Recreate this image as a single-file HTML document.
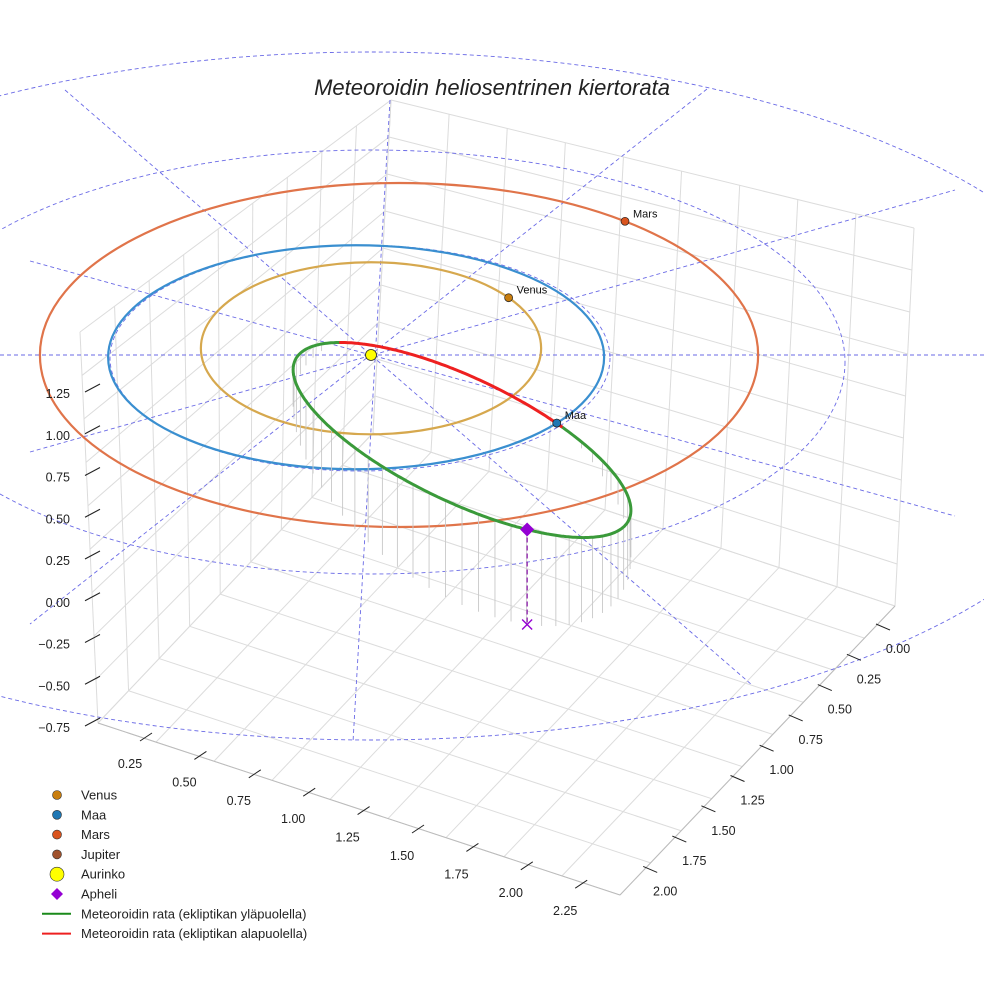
<!DOCTYPE html>
<html><head><meta charset="utf-8"><style>
body{margin:0;background:#fff}
svg{display:block;font-family:"Liberation Sans",sans-serif}
</style></head><body>
<svg id="c" width="984" height="984" viewBox="0 0 984 984">
<g id="grid"></g>
<g id="guides"></g>
<g id="orbits"></g>
<g id="meteor"></g>
<g id="ticks"></g>
<text x="492" y="95" text-anchor="middle" font-size="22" font-style="italic" fill="#222">Meteoroidin heliosentrinen kiertorata</text>
<g id="legend"></g>
</svg>
<script>
// ---- data ----
const planetNames = ["Venus","Maa","Mars"];
const planetA = [0.686, 1.0, 1.448];        // semi-axis along x (AU)
const planetB = [0.768, 1.0, 1.536];        // semi-axis along y (AU)
const planetCX = [0.0, -0.06, 0.113];       // orbit centre offset (AU)
const planetCY = [-0.06, 0.02, 0.0];
const planetAngleDeg = [-36, 36, -51];      // current position angle
const orbitColors = ["#d6a84e","#3a8fd0","#e0744a"];
const markerColors = ["#c87d0e","#1f77b4","#d9541e"];
// meteoroid orbit (projected ecliptic coords, AU) and elevation
const meteorCenter = [0.367, 0.759];
const meteorRadii = [0.681, 0.871];
const meteorPhase = 0.767;
const meteorZ0 = 0.221, meteorZamp = 0.292, meteorZphase = 1.479;
const apheliT = 1.175;
const zTicks = ["1.25","1.00","0.75","0.50","0.25","0.00","−0.25","−0.50","−0.75"];
const xTicks = ["0.25","0.50","0.75","1.00","1.25","1.50","1.75","2.00","2.25"];
const yTicks = ["0.00","0.25","0.50","0.75","1.00","1.25","1.50","1.75","2.00"];
const legendLabels = ["Venus","Maa","Mars","Jupiter","Aurinko","Apheli","Meteoroidin rata (ekliptikan yläpuolella)","Meteoroidin rata (ekliptikan alapuolella)"];

// ---- projection ----
const SX=371, SY=355, KX=248, KY=112, KZ=190;
const px = X => SX + KX*X;
const py = (Y,Z=0) => SY + KY*Y - KZ*Z;
const NS="http://www.w3.org/2000/svg";
function mk(tag, attrs, parent){const e=document.createElementNS(NS,tag);for(const k in attrs)e.setAttribute(k,attrs[k]);parent.appendChild(e);return e;}
const lerp=(a,b,t)=>[a[0]+(b[0]-a[0])*t,a[1]+(b[1]-a[1])*t];

// ---- box grid ----
const grid=document.getElementById('grid');
const Lt=[80,332],Lb=[98,723],Bt=[391,100],Bb=[373,433],Rt=[914,228],Rb=[895,606],Fb=[620,895];
function gl(a,b){const l=mk('line',{x1:a[0],y1:a[1],x2:b[0],y2:b[1],stroke:'#dcdcdc','stroke-width':1},grid);

}
for(let i=0;i<=9;i++){const t=i/9;gl(lerp(Lb,Bb,t),lerp(Lt,Bt,t));gl(lerp(Rb,Bb,t),lerp(Rt,Bt,t));
 gl(lerp(Lb,Lt,t),lerp(Bb,Bt,t));gl(lerp(Rb,Rt,t),lerp(Bb,Bt,t));
 gl(lerp(Lb,Bb,t),lerp(Fb,Rb,t));gl(lerp(Bb,Rb,t),lerp(Lb,Fb,t));}
mk('line',{x1:Lb[0],y1:Lb[1],x2:Fb[0],y2:Fb[1],stroke:'#bbb'},grid);
mk('line',{x1:Fb[0],y1:Fb[1],x2:Rb[0],y2:Rb[1],stroke:'#bbb'},grid);

// ---- guides ----
const gd=document.getElementById('guides');
const gs={stroke:'#6a6ae6','stroke-width':0.9,'stroke-dasharray':'4,3',fill:'none'};
[[371,362,474,212],[371,396,760,344],[360,358,250,113]].forEach(r=>{const e=mk('ellipse',Object.assign({cx:r[0],cy:r[1],rx:r[2],ry:r[3]},gs),gd);

});
[[0,355,984,355],[390,100,353,742],[65,90,752,685],[30,261,955,516],[30,452,955,190],[707,89,30,624]].forEach(l=>{const e=mk('line',Object.assign({x1:l[0],y1:l[1],x2:l[2],y2:l[3]},gs),gd);

});

// ---- planet orbits ----
const og=document.getElementById('orbits');
planetNames.forEach((n,i)=>{
 const cx=px(planetCX[i]), cy=py(planetCY[i]), rx=KX*planetA[i], ry=KY*planetB[i];
 const e=mk('ellipse',{cx:cx,cy:cy,rx:rx,ry:ry,fill:'none',stroke:orbitColors[i],'stroke-width':2.2},og);
 
 
 const a=planetAngleDeg[i]*Math.PI/180, mx=cx+rx*Math.cos(a), my=cy+ry*Math.sin(a);
 const m=mk('circle',{cx:mx,cy:my,r:4,fill:markerColors[i],stroke:'#222','stroke-width':0.7},og);
 
 
 const t=mk('text',{x:mx+8,y:my-4,'font-size':11,fill:'#111'},og);t.textContent=n;
 
 
});

// ---- meteoroid ----
const mg=document.getElementById('meteor');
function mpt(t){const X=meteorCenter[0]+meteorRadii[0]*Math.cos(t);
 const Ys=meteorCenter[1]+meteorRadii[1]*Math.cos(t-meteorPhase);
 const Z=meteorZ0+meteorZamp*Math.cos(t-meteorZphase);
 return {x:px(X),y:py(Ys),foot:py(Ys)+KZ*Z,Z:Z};}
for(let k=0;k<64;k++){const p=mpt(k/64*2*Math.PI);if(p.Z>0.02){
 const s=mk('line',{x1:p.x,y1:p.y,x2:p.x,y2:p.foot,stroke:'#c8c8c8','stroke-width':0.9},mg);
 
 }}
let green='',red='';const N=360;
for(let k=0;k<=N;k++){const t=k/N*2*Math.PI,p=mpt(t),q=mpt(t+2*Math.PI/N);
 const seg=`M${p.x.toFixed(1)},${p.y.toFixed(1)}L${q.x.toFixed(1)},${q.y.toFixed(1)}`;
 if(p.Z>=0)green+=seg;else red+=seg;}
const gp=mk('path',{d:green,stroke:'#3a9a3a','stroke-width':3,fill:'none','stroke-linecap':'round'},mg);


const rp=mk('path',{d:red,stroke:'#ee2020','stroke-width':3,fill:'none','stroke-linecap':'round'},mg);


// redraw Earth marker on top
{const i=1,cx=px(planetCX[i]),cy=py(planetCY[i]),rx=KX*planetA[i],ry=KY*planetB[i],a=planetAngleDeg[i]*Math.PI/180;
 const m=mk('circle',{cx:cx+rx*Math.cos(a),cy:cy+ry*Math.sin(a),r:4,fill:markerColors[i],stroke:'#222','stroke-width':0.7},mg);
 
 }
const ap=mpt(apheliT);
const dl=mk('line',{x1:ap.x,y1:ap.y,x2:ap.x,y2:ap.foot,stroke:'#8a1aa8','stroke-width':1.3,'stroke-dasharray':'5,3'},mg);


const dm=mk('path',{d:`M${ap.x},${ap.y-7}L${ap.x+7},${ap.y}L${ap.x},${ap.y+7}L${ap.x-7},${ap.y}Z`,fill:'#9400d3'},mg);


const xm=mk('path',{d:`M${ap.x-5},${ap.foot-5}L${ap.x+5},${ap.foot+5}M${ap.x+5},${ap.foot-5}L${ap.x-5},${ap.foot+5}`,stroke:'#9400d3','stroke-width':1.4},mg);


const sun=mk('circle',{cx:px(0),cy:py(0),r:5.5,fill:'#ffff00',stroke:'#222','stroke-width':0.8},mg);



// ---- ticks ----
const tg=document.getElementById('ticks');
function tl(x,y,s,anchor){const t=mk('text',{x:x,y:y,'font-size':12.5,fill:'#222','text-anchor':anchor},tg);t.textContent=s;
 
 }
zTicks.forEach((s,i)=>{const y=393+i*41.75;tl(70,y+5,s,'end');mk('line',{x1:85,y1:y-1,x2:100,y2:y-9,stroke:'#222'},tg);});
xTicks.forEach((s,i)=>{const x=130+i*54.4,y=763+i*18.4;tl(x,y+5,s,'middle');mk('line',{x1:x+10,y1:y-22,x2:x+22,y2:y-30,stroke:'#222'},tg);});
yTicks.forEach((s,i)=>{const x=898-i*29.1,y=648+i*30.3;tl(x,y+5,s,'middle');mk('line',{x1:x-22,y1:y-24,x2:x-8,y2:y-18,stroke:'#222'},tg);});

// ---- legend ----
const lg=document.getElementById('legend');
const legMarker=[['c','#c87d0e',4.5],['c','#1f77b4',4.5],['c','#d9541e',4.5],['c','#a0522d',4.5],['c','#ffff00',7],['d','#9400d3',6],['l','#1a8a1a'],['l','#ee2020']];
legendLabels.forEach((s,i)=>{const y=795+i*19.8,m=legMarker[i];let e;
 if(m[0]=='c')e=mk('circle',{cx:57,cy:y,r:m[2],fill:m[1],stroke:'#333','stroke-width':0.6},lg);
 else if(m[0]=='d')e=mk('path',{d:`M57,${y-6}L63,${y}L57,${y+6}L51,${y}Z`,fill:m[1]},lg);
 else e=mk('line',{x1:42,y1:y,x2:71,y2:y,stroke:m[1],'stroke-width':2},lg);
 
 
 const t=mk('text',{x:81,y:y+4.5,'font-size':13,fill:'#222'},lg);t.textContent=s;
 
 });
</script>
</body></html>
